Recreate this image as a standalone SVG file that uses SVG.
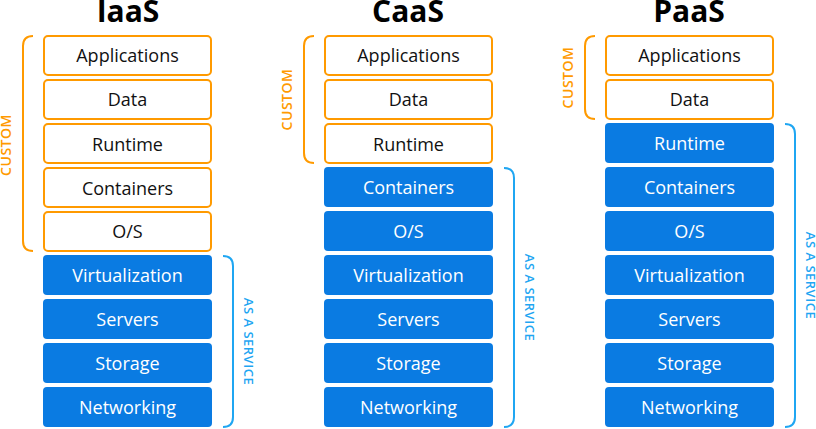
<svg xmlns="http://www.w3.org/2000/svg" width="816" height="429" viewBox="0 0 816 429">
<style>
.c rect{fill:#fff;stroke:#FF9A00;stroke-width:2}
.s rect{fill:#0A7BE2;stroke:none}
text{font-family:"Open Sans","Noto Sans","Liberation Sans",sans-serif}
.c text{font-size:18px;fill:#111;text-anchor:middle}
.s text{font-size:18px;fill:#fff;text-anchor:middle}
.h{font-size:30px;font-weight:bold;fill:#000;text-anchor:middle}
.bc{fill:none;stroke:#FF9A00;stroke-width:2}
.bs{fill:none;stroke:#1FA6F2;stroke-width:2}
.lc{font-size:14px;font-weight:600;fill:#FF9A00;text-anchor:middle;letter-spacing:0.5px}
.ls{font-size:13px;font-weight:600;fill:#1FA6F2;text-anchor:middle;letter-spacing:0.5px}
</style>
<text class="h" x="128" y="22">IaaS</text>
<text class="h" x="408" y="22">CaaS</text>
<text class="h" x="689" y="22">PaaS</text>
<g id="iaas">
<g id="iaas-applications" class="c"><rect x="44" y="36" width="167" height="39" rx="4"/><text x="127.5" y="62">Applications</text></g>
<g id="iaas-data" class="c"><rect x="44" y="80" width="167" height="39" rx="4"/><text x="127.5" y="106">Data</text></g>
<g id="iaas-runtime" class="c"><rect x="44" y="124" width="167" height="39" rx="4"/><text x="127.5" y="151">Runtime</text></g>
<g id="iaas-containers" class="c"><rect x="44" y="168" width="167" height="39" rx="4"/><text x="127.5" y="195">Containers</text></g>
<g id="iaas-os" class="c"><rect x="44" y="212" width="167" height="39" rx="4"/><text x="127.5" y="238">O/S</text></g>
<g id="iaas-virtualization" class="s"><rect x="43" y="255" width="169" height="40" rx="4"/><text x="127.5" y="282">Virtualization</text></g>
<g id="iaas-servers" class="s"><rect x="43" y="299" width="169" height="40" rx="4"/><text x="127.5" y="326">Servers</text></g>
<g id="iaas-storage" class="s"><rect x="43" y="343" width="169" height="40" rx="4"/><text x="127.5" y="370">Storage</text></g>
<g id="iaas-networking" class="s"><rect x="43" y="387" width="169" height="40" rx="4"/><text x="127.5" y="414">Networking</text></g>
</g>
<g id="caas">
<g id="caas-applications" class="c"><rect x="325" y="36" width="167" height="39" rx="4"/><text x="408.5" y="62">Applications</text></g>
<g id="caas-data" class="c"><rect x="325" y="80" width="167" height="39" rx="4"/><text x="408.5" y="106">Data</text></g>
<g id="caas-runtime" class="c"><rect x="325" y="124" width="167" height="39" rx="4"/><text x="408.5" y="151">Runtime</text></g>
<g id="caas-containers" class="s"><rect x="324" y="167" width="169" height="40" rx="4"/><text x="408.5" y="194">Containers</text></g>
<g id="caas-os" class="s"><rect x="324" y="211" width="169" height="40" rx="4"/><text x="408.5" y="238">O/S</text></g>
<g id="caas-virtualization" class="s"><rect x="324" y="255" width="169" height="40" rx="4"/><text x="408.5" y="282">Virtualization</text></g>
<g id="caas-servers" class="s"><rect x="324" y="299" width="169" height="40" rx="4"/><text x="408.5" y="326">Servers</text></g>
<g id="caas-storage" class="s"><rect x="324" y="343" width="169" height="40" rx="4"/><text x="408.5" y="370">Storage</text></g>
<g id="caas-networking" class="s"><rect x="324" y="387" width="169" height="40" rx="4"/><text x="408.5" y="414">Networking</text></g>
</g>
<g id="paas">
<g id="paas-applications" class="c"><rect x="606" y="36" width="167" height="39" rx="4"/><text x="689.5" y="62">Applications</text></g>
<g id="paas-data" class="c"><rect x="606" y="80" width="167" height="39" rx="4"/><text x="689.5" y="106">Data</text></g>
<g id="paas-runtime" class="s"><rect x="605" y="123" width="169" height="40" rx="4"/><text x="689.5" y="150">Runtime</text></g>
<g id="paas-containers" class="s"><rect x="605" y="167" width="169" height="40" rx="4"/><text x="689.5" y="194">Containers</text></g>
<g id="paas-os" class="s"><rect x="605" y="211" width="169" height="40" rx="4"/><text x="689.5" y="238">O/S</text></g>
<g id="paas-virtualization" class="s"><rect x="605" y="255" width="169" height="40" rx="4"/><text x="689.5" y="282">Virtualization</text></g>
<g id="paas-servers" class="s"><rect x="605" y="299" width="169" height="40" rx="4"/><text x="689.5" y="326">Servers</text></g>
<g id="paas-storage" class="s"><rect x="605" y="343" width="169" height="40" rx="4"/><text x="689.5" y="370">Storage</text></g>
<g id="paas-networking" class="s"><rect x="605" y="387" width="169" height="40" rx="4"/><text x="689.5" y="414">Networking</text></g>
</g>
<g id="brackets">
<path class="bc" d="M33,36 Q23,36 23,46 L23,241 Q23,251 33,251"/>
<path class="bc" d="M314,36 Q304,36 304,46 L304,153 Q304,163 314,163"/>
<path class="bc" d="M595,36 Q585,36 585,46 L585,109 Q585,119 595,119"/>
<path class="bs" d="M223,256 Q233,256 233,266 L233,417 Q233,427 223,427"/>
<path class="bs" d="M504,168 Q514,168 514,178 L514,417 Q514,427 504,427"/>
<path class="bs" d="M785,124 Q795,124 795,134 L795,417 Q795,427 785,427"/>
</g>
<g id="labels">
<text class="lc" transform="translate(10.5,145) rotate(-90)">CUSTOM</text>
<text class="lc" transform="translate(291.5,99.5) rotate(-90)">CUSTOM</text>
<text class="lc" transform="translate(572.5,77.5) rotate(-90)">CUSTOM</text>
<text class="ls" transform="translate(244,341.5) rotate(90)">AS A SERVICE</text>
<text class="ls" transform="translate(525,297.5) rotate(90)">AS A SERVICE</text>
<text class="ls" transform="translate(806,275.5) rotate(90)">AS A SERVICE</text>
</g>
</svg>
